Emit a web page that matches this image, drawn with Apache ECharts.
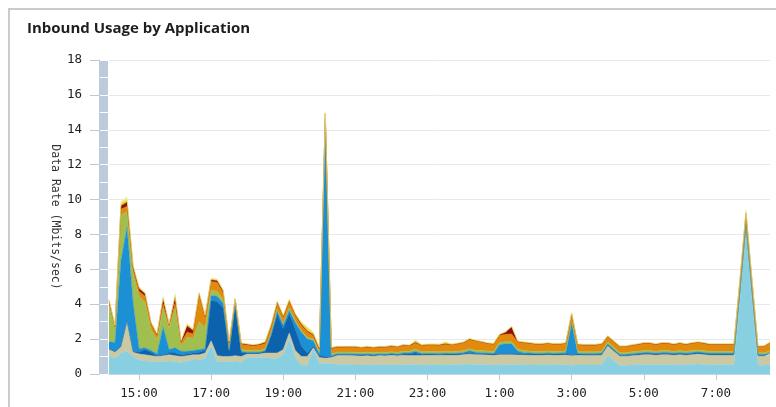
<!DOCTYPE html>
<html>
<head>
<meta charset="utf-8">
<title>Inbound Usage by Application</title>
<script src="https://cdn.jsdelivr.net/npm/echarts/dist/echarts.min.js"></script>
<style>
  html, body { margin: 0; padding: 0; background: #fff; }
  #main { width: 776px; height: 407px; }
</style>
</head>
<body>
<div id="main"></div>
<script>
// 时间轴 (每10分钟一个点)
var times = [
  '14:10','14:20','14:30','14:40','14:50','15:00','15:10','15:20','15:30','15:40',
  '15:50','16:00','16:10','16:20','16:30','16:40','16:50','17:00','17:10','17:20',
  '17:30','17:40','17:50','18:00','18:10','18:20','18:30','18:40','18:50','19:00',
  '19:10','19:20','19:30','19:40','19:50','20:00','20:10','20:20','20:30','20:40',
  '20:50','21:00','21:10','21:20','21:30','21:40','21:50','22:00','22:10','22:20',
  '22:30','22:40','22:50','23:00','23:10','23:20','23:30','23:40','23:50','0:00',
  '0:10','0:20','0:30','0:40','0:50','1:00','1:10','1:20','1:30','1:40',
  '1:50','2:00','2:10','2:20','2:30','2:40','2:50','3:00','3:10','3:20',
  '3:30','3:40','3:50','4:00','4:10','4:20','4:30','4:40','4:50','5:00',
  '5:10','5:20','5:30','5:40','5:50','6:00','6:10','6:20','6:30','6:40',
  '6:50','7:00','7:10','7:20','7:30','7:40','7:50','8:00','8:10','8:20',
  '8:30'
];

// y轴刻度
var yTicks = [0, 2, 4, 6, 8, 10, 12, 14, 16, 18];

// 各应用流量 (Mbits/sec), 从下往上堆叠
var lightBlue = [
  1.05, .9, 1.2, 1.3, 1.0, .8, .75, .7, .7, .7,
  .75, .7, .65, .75, .8, .8, .9, 1.6, .7, .7,
  .7, .75, .65, .95, .95, .95, .95, .9, .9, 1.1,
  2.0, .95, .5, .5, 1.4, .6, .6, .6, .54, .55,
  .53, .52, .51, .53, .5, .53, .52, .53, .52, .53,
  .53, .53, .52, .53, .53, .52, .53, .53, .53, .55,
  .57, .53, .53, .53, .52, .53, .53, .53, .53, .53,
  .52, .52, .53, .53, .52, .53, .53, .5, .52, .52,
  .51, .52, .53, 1.05, .75, .5, .5, .52, .53, .55,
  .55, .53, .55, .55, .53, .55, .53, .55, .57, .55,
  .53, .53, .53, .53, .53, 4.3, 8.2, 4.3, .5, .5,
  .53
];
var khaki = [
  .35, .35, .35, 1.7, .25, .35, .35, .35, .3, .35,
  .35, .35, .35, .3, .3, .3, .3, .3, .35, .3,
  .3, .3, .35, .2, .2, .2, .25, .3, .3, .3,
  .35, .4, .5, .5, .1, .35, .3, .35, .52, .51,
  .53, .53, .52, .52, .52, .53, .52, .54, .52, .55,
  .53, .53, .54, .54, .55, .55, .55, .54, .55, .56,
  .58, .58, .57, .56, .55, .57, .57, .57, .56, .56,
  .56, .55, .55, .56, .55, .55, .56, .55, .55, .54,
  .55, .54, .55, .55, .56, .52, .52, .53, .55, .56,
  .56, .55, .56, .56, .55, .56, .55, .56, .57, .56,
  .55, .55, .55, .55, .55, .4, .3, .4, .52, .52,
  .57
];
var darkBlue = [
  .05, .05, .05, .05, .05, .1, .3, .2, .05, .05,
  .1, .15, .1, .1, .1, .15, .15, 2.3, 3.1, 2.8,
  .3, 2.9, .25, .05, .05, .05, .1, 1.0, 2.2, 1.2,
  1.1, 1.2, .6, .2, .1, .1, .1, .05, .06, .06,
  .06, .06, .06, .07, .06, .06, .06, .07, .06, .07,
  .1, .15, .07, .07, .06, .06, .07, .07, .07, .07,
  .08, .07, .07, .07, .07, .08, .08, .08, .08, .07,
  .07, .07, .06, .07, .07, .07, .07, .06, .07, .07,
  .07, .07, .07, .08, .07, .06, .06, .07, .07, .08,
  .08, .07, .08, .08, .07, .08, .07, .08, .08, .08,
  .07, .07, .07, .07, .07, .05, .05, .05, .06, .06,
  .07
];
var blue = [
  .4, .5, 4.9, 5.35, 2.8, .2, .1, .1, .1, 1.6,
  .2, .3, .2, .15, .15, .15, .1, .3, .3, .25,
  .05, .1, .05, .05, .05, .05, .05, .1, .2, .2,
  .2, .4, .8, .8, .3, .1, 13.6, .05, .04, .04,
  .04, .04, .04, .04, .04, .04, .04, .04, .05, .06,
  .05, .1, .04, .04, .04, .04, .04, .04, .04, .05,
  .1, .06, .05, .04, .04, .5, .55, .55, .15, .06,
  .05, .04, .04, .04, .04, .04, .05, 1.8, .04, .04,
  .04, .04, .04, .04, .04, .04, .04, .04, .04, .04,
  .04, .04, .04, .04, .04, .04, .04, .04, .04, .04,
  .04, .04, .04, .04, .04, .03, .03, .03, .04, .04,
  .04
];
var green = [
  2.1, .75, 2.6, .9, 1.7, 3.0, 2.6, 1.2, .8, 1.05,
  1.2, 2.25, .3, .8, .7, 1.6, 1.2, .3, .3, .2,
  .1, .05, .1, .1, .1, .1, .1, .1, .1, .1,
  .15, .1, .1, .1, .1, .1, .1, .1, .1, .1,
  .1, .1, .09, .1, .1, .1, .1, .1, .1, .1,
  .1, .12, .1, .11, .11, .11, .11, .11, .12, .12,
  .12, .12, .12, .12, .11, .12, .12, .12, .12, .12,
  .12, .11, .11, .12, .11, .11, .12, .1, .11, .11,
  .11, .11, .11, .11, .11, .1, .1, .11, .11, .12,
  .12, .11, .12, .12, .11, .12, .11, .12, .12, .12,
  .11, .11, .11, .11, .11, .1, .1, .1, .1, .1,
  .12
];
var orange = [
  .2, .15, .35, .3, .25, .3, .35, .3, .25, .25,
  .2, .3, .2, .3, .25, 1.5, .6, .5, .5, .4,
  .3, .15, .3, .3, .25, .3, .3, .35, .35, .35,
  .35, .3, .3, .3, .2, .2, .2, .3, .28, .28,
  .28, .29, .27, .28, .27, .28, .28, .3, .29, .33,
  .3, .35, .36, .37, .37, .37, .4, .37, .41, .44,
  .52, .53, .48, .42, .41, .42, .42, .45, .4, .45,
  .43, .41, .41, .42, .41, .4, .41, .4, .38, .37,
  .37, .37, .4, .31, .32, .34, .34, .36, .38, .4,
  .4, .38, .4, .4, .38, .4, .38, .4, .42, .4,
  .38, .38, .38, .38, .38, .45, .5, .45, .34, .35,
  .45
];
var darkRed = [
  .05, .03, .2, .25, .1, .15, .15, .05, .05, .3,
  .05, .35, .05, .35, .2, .1, .05, .1, .1, .1,
  .05, .05, .05, .05, .05, .05, .05, .05, .05, .05,
  .05, .05, .05, .05, .05, .03, .03, .03, .02, .02,
  .02, .02, .02, .02, .02, .02, .04, .03, .02, .02,
  .02, .03, .02, .02, .02, .02, .03, .02, .02, .02,
  .03, .02, .02, .02, .02, .03, .13, .4, .02, .02,
  .02, .02, .02, .02, .02, .02, .02, .03, .02, .02,
  .02, .02, .02, .02, .02, .02, .02, .02, .02, .02,
  .02, .02, .02, .02, .02, .02, .02, .02, .02, .02,
  .02, .02, .02, .02, .02, .03, .05, .03, .02, .02,
  .02
];
var yellow = [
  .05, .03, .15, .15, .1, .05, .05, .05, .05, .1,
  .02, .1, .05, .1, .05, .05, .05, .05, .05, .05,
  .05, .02, .02, .02, .02, .02, .05, .05, .05, .05,
  .05, .05, .1, .2, .1, .03, .03, .03, .02, .02,
  .02, .02, .02, .02, .02, .02, .01, .02, .02, .02,
  .02, .1, .02, .02, .02, .02, .08, .02, .02, .02,
  .02, .02, .02, .02, .02, .02, .02, .02, .02, .02,
  .02, .02, .02, .02, .02, .02, .02, .05, .02, .02,
  .02, .02, .02, .02, .02, .02, .02, .02, .02, .02,
  .02, .02, .02, .02, .02, .02, .02, .02, .02, .02,
  .02, .02, .02, .02, .02, .04, .07, .04, .02, .02,
  .02
];
var pale = [
  .05, .04, .1, .15, .05, .05, .05, .05, .05, .05,
  .03, .1, .05, .05, .05, .05, .05, .05, .05, .05,
  .05, .03, .03, .03, .03, .03, .05, .05, .05, .05,
  .05, .05, .05, .05, .05, .04, .04, .04, .03, .03,
  .03, .03, .03, .03, .03, .03, .02, .03, .03, .03,
  .03, .05, .03, .03, .03, .03, .05, .03, .03, .03,
  .03, .03, .03, .03, .03, .03, .03, .03, .03, .03,
  .03, .03, .03, .03, .03, .03, .03, .05, .03, .03,
  .03, .03, .03, .03, .03, .02, .03, .03, .03, .03,
  .03, .03, .03, .03, .03, .03, .03, .03, .03, .03,
  .03, .03, .03, .03, .03, .1, .1, .1, .02, .02,
  .03
];

var layers = [
  { name: 'lightBlue', data: lightBlue, color: '#88cfe2' },
  { name: 'khaki',     data: khaki,     color: '#cbc9a2' },
  { name: 'darkBlue',  data: darkBlue,  color: '#0c62ac' },
  { name: 'blue',      data: blue,      color: '#1b90d5' },
  { name: 'green',     data: green,     color: '#a1bf4f' },
  { name: 'orange',    data: orange,    color: '#e3890c' },
  { name: 'darkRed',   data: darkRed,   color: '#8e1111' },
  { name: 'yellow',    data: yellow,    color: '#f0d82c' },
  { name: 'pale',      data: pale,      color: '#e4efa2' }
];

var monoFont = 'DejaVu Sans Mono';

// 只在奇数整点显示刻度
function isOddHour(value) {
  var p = value.split(':');
  return p[1] === '00' && (parseInt(p[0], 10) % 2 === 1);
}

function init() {
  var myChart = echarts.init(document.getElementById('main'));

  var series = [];
  for (var i = 0; i < layers.length; i++) {
    series.push({
      name: layers[i].name,
      type: 'line',
      stack: 'total',
      symbol: 'none',
      data: layers[i].data,
      itemStyle: { color: layers[i].color },
      lineStyle: { width: 0.5, color: layers[i].color },
      areaStyle: { color: layers[i].color, opacity: 1 }
    });
  }

  var option = {
    animation: false,
    backgroundColor: '#fff',
    title: {
      text: 'Inbound Usage by Application',
      left: 22,
      top: 16,
      textStyle: { fontFamily: 'Open Sans', fontWeight: 'bold', fontSize: 15, color: '#1e1e1e' }
    },
    graphic: [{
      type: 'rect',
      shape: { x: 9, y: 9, width: 820, height: 440 },
      style: { fill: 'none', stroke: '#cbcbcb', lineWidth: 2 },
      silent: true
    }],
    grid: [
      { left: 109, right: 6, top: 60, bottom: 33 },
      // 左侧的浅蓝色带
      { left: 99, width: 9, top: 60, bottom: 33, show: true, backgroundColor: '#bccbdc', borderWidth: 0 }
    ],
    xAxis: [{
      type: 'category',
      data: times,
      boundaryGap: false,
      axisLine: { lineStyle: { color: '#c6d4e3', width: 1 } },
      axisTick: { interval: function (idx, value) { return isOddHour(value); }, length: 6, lineStyle: { color: '#b9c9db' } },
      axisLabel: {
        interval: function (idx, value) { return isOddHour(value); },
        fontFamily: monoFont, fontSize: 12.5, color: '#222', margin: 13
      },
      splitLine: { show: false }
    }, {
      type: 'value',
      gridIndex: 1,
      show: false
    }],
    yAxis: [{
      type: 'value',
      min: yTicks[0],
      max: yTicks[yTicks.length - 1],
      interval: 2,
      offset: 10,
      name: 'Data Rate (Mbits/sec)',
      nameLocation: 'middle',
      nameRotate: -90,
      nameGap: 38,
      nameMoveOverlap: false,
      nameTextStyle: { fontFamily: monoFont, fontSize: 11.5, color: '#333' },
      axisLine: { show: true, lineStyle: { color: '#bccbdc', width: 1 } },
      axisTick: { show: true, length: 9, lineStyle: { color: '#b9c9db' } },
      axisLabel: { fontFamily: monoFont, fontSize: 12.5, color: '#222', margin: 17 },
      splitLine: { lineStyle: { color: '#e8e8e8', width: 1 } }
    }, {
      // 色带上的白色分隔线
      type: 'value',
      gridIndex: 1,
      min: 0,
      max: 18,
      interval: 1,
      axisLine: { show: false },
      axisTick: { show: false },
      axisLabel: { show: false },
      splitLine: { show: true, lineStyle: { color: '#ffffff', width: 1 } }
    }],
    series: series
  };

  myChart.setOption(option);
}

window.onload = init;
</script>
</body>
</html>
